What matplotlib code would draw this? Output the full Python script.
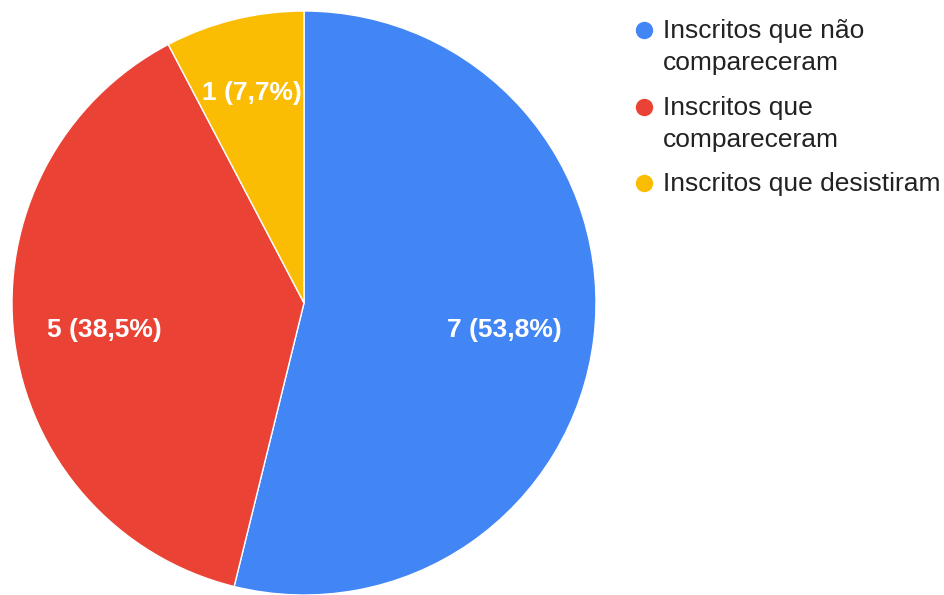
import numpy as np
import matplotlib.pyplot as plt
from matplotlib.lines import Line2D

plt.rcParams['font.family'] = ['Liberation Sans', 'DejaVu Sans']

labels = [['Inscritos que não', 'compareceram'], ['Inscritos que', 'compareceram'], ['Inscritos que desistiram']]
values = [7, 5, 1]
colors = ['#4285F4', '#EA4335', '#FBBC04']

W, H = 945, 595
fig = plt.figure(figsize=(W / 100, H / 100), dpi=100)

# pie area in pixels: center (304, 303), radius 292
cx, cy, r = 304, 303, 292
ax = fig.add_axes([(cx - r) / W, (H - cy - r) / H, 2 * r / W, 2 * r / H])

total = sum(values)


def fmt(pct):
    n = int(round(pct * total / 100))
    return '{} ({:.1f}%)'.format(n, pct).replace('.', ',')


wedges, texts, autotexts = ax.pie(values, colors=colors, startangle=90, counterclock=False,
                                  autopct=fmt, pctdistance=0.69,
                                  wedgeprops=dict(edgecolor='white', linewidth=1),
                                  textprops=dict(color='white', fontsize=19, fontweight='bold'))
# small slices get their label pushed further out
for w, t in zip(wedges, autotexts):
    ang = np.deg2rad((w.theta1 + w.theta2) / 2)
    rad = 0.69 if (w.theta2 - w.theta1) > 60 else 0.75
    t.set_position((rad * np.cos(ang), rad * np.sin(ang) - 0.01))
ax.set_xlim(-1, 1)
ax.set_ylim(-1, 1)
ax.set_aspect('equal')
ax.axis('off')

# legend, marker aligned with first line of each label
marker_y = [30, 107, 183]
for lines, col, y in zip(labels, colors, marker_y):
    fig.add_artist(Line2D([644 / W], [1 - y / H], marker='o', markersize=11.5,
                          color=col, linestyle='none', transform=fig.transFigure))
    for i, line in enumerate(lines):
        base = y + 8 + i * 32
        fig.text(663 / W, 1 - base / H, line, fontsize=19, color='#222222',
                 va='baseline', ha='left')

fig.savefig('out.png', dpi=100)
